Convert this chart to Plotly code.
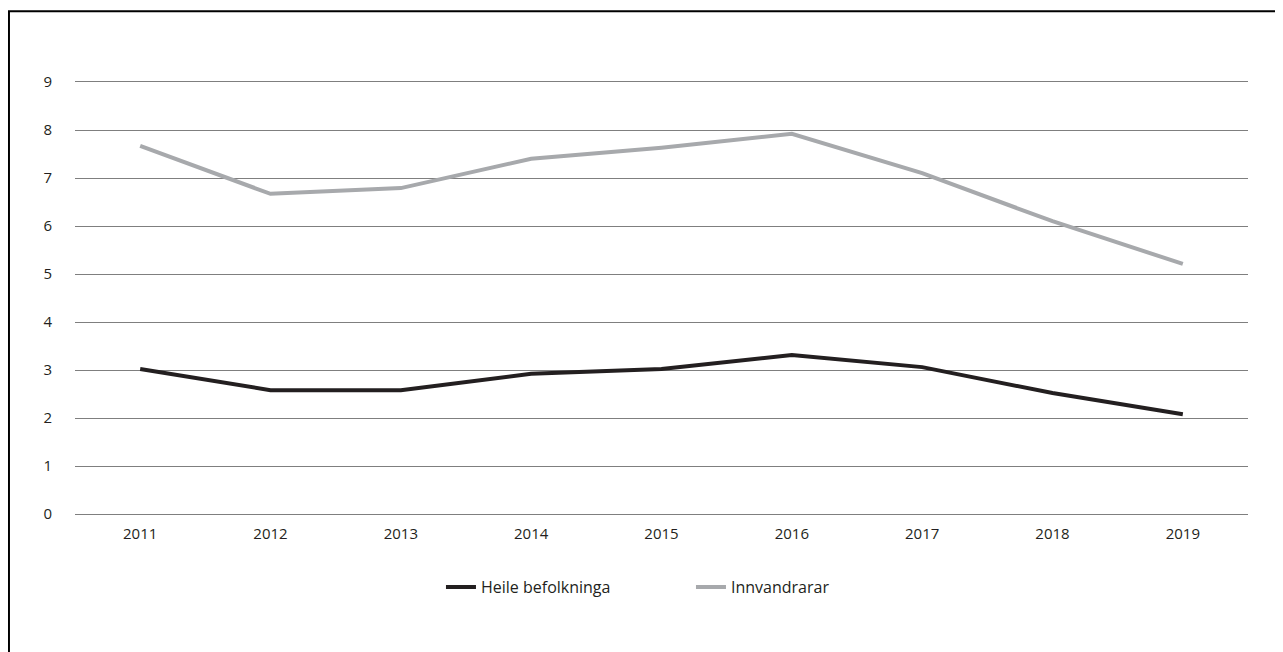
import plotly.graph_objects as go

years = ["2011", "2012", "2013", "2014", "2015", "2016", "2017", "2018", "2019"]
heile = [3.02, 2.58, 2.58, 2.92, 3.02, 3.31, 3.06, 2.52, 2.08]
innvandrarar = [7.67, 6.67, 6.79, 7.40, 7.63, 7.92, 7.10, 6.10, 5.21]

fig = go.Figure()
fig.add_trace(go.Scatter(x=years, y=heile, name="Heile befolkninga", mode="lines",
                         line=dict(color="#231f20", width=4)))
fig.add_trace(go.Scatter(x=years, y=innvandrarar, name="Innvandrarar", mode="lines",
                         line=dict(color="#a7a9ac", width=4)))

# page body adds 8px, so the figure is sized a little smaller
fig.update_layout(
    width=1275, height=644,
    margin=dict(l=67, r=35, t=74, b=138),
    paper_bgcolor="white", plot_bgcolor="white",
    font=dict(family="Open Sans", size=15, color="#231f20"),
    showlegend=True,
    legend=dict(orientation="h", x=0.312, xanchor="left", y=-0.13, yanchor="top",
                font=dict(size=16), entrywidth=205, entrywidthmode="pixels"),
    xaxis=dict(range=[-0.5, 8.5], showgrid=False, ticks="",
               showline=True, mirror=True, linecolor="#7f7f7f", linewidth=1,
               ticklabelstandoff=6),
    yaxis=dict(range=[0, 9], dtick=1, showgrid=True, gridcolor="#7f7f7f", gridwidth=1,
               zeroline=True, zerolinecolor="#7f7f7f", zerolinewidth=1,
               ticks="", ticklabelstandoff=22),
    shapes=[dict(type="rect", xref="paper", yref="paper",
                 x0=-0.0563, x1=1.2, y0=-0.4, y1=1.164,
                 line=dict(color="black", width=2))],
)

fig.write_html("out.html")
